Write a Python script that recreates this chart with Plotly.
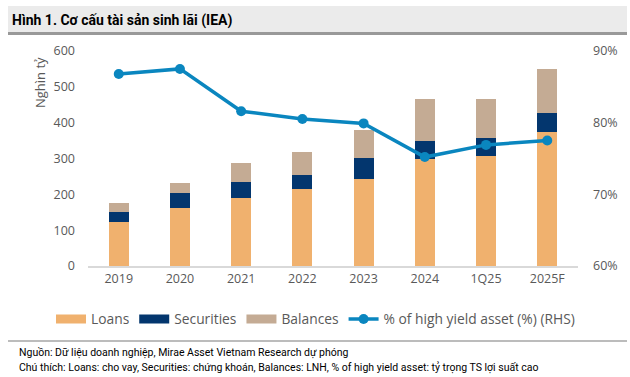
import plotly.graph_objects as go

categories = ["2019", "2020", "2021", "2022", "2023", "2024", "1Q25", "2025F"]
loans = [124, 163, 191, 214, 242, 300, 308, 374]
securities = [28, 40, 44, 40, 60, 50, 49, 52]
balances = [24, 30, 53, 64, 78, 115, 108, 124]
high_yield_pct = [86.8, 87.5, 81.6, 80.5, 79.9, 75.2, 76.9, 77.5]

C_LOANS = "#F0B16E"
C_SEC = "#03366E"
C_BAL = "#C4AB94"
C_LINE = "#0A86BF"
GREY = "#595959"

fig = go.Figure()
for name, vals, col in [("Loans", loans, C_LOANS), ("Securities", securities, C_SEC), ("Balances", balances, C_BAL)]:
    fig.add_trace(go.Bar(x=categories, y=vals, name=name, marker=dict(color=col, line=dict(width=0)),
                         showlegend=False, yaxis="y"))
# legend proxies (wide rectangular swatches)
for name, col in [("Loans", C_LOANS), ("Securities", C_SEC), ("Balances", C_BAL)]:
    fig.add_trace(go.Scatter(x=[None], y=[None], mode="lines", name=name,
                             line=dict(color=col, width=9), showlegend=True))

fig.add_trace(go.Scatter(x=categories, y=high_yield_pct, name="% of high yield asset (%) (RHS)",
                         mode="lines+markers", line=dict(color=C_LINE, width=3.5),
                         marker=dict(color=C_LINE, size=10), yaxis="y2"))

fig.update_layout(
    width=630, height=377,
    margin=dict(l=88, r=52, t=51, b=111, autoexpand=False),
    paper_bgcolor="white", plot_bgcolor="white",
    barmode="stack", bargap=0.67,
    font=dict(family="Open Sans", size=12.5, color=GREY),
    xaxis=dict(showline=True, linecolor="#D9D9D9", linewidth=1.5, ticks="", showgrid=False,
               tickfont=dict(size=12.5, color=GREY)),
    yaxis=dict(range=[0, 600], dtick=100, showgrid=False, zeroline=False, ticks="",
               tickfont=dict(size=12.5, color=GREY), ticklabelstandoff=12),
    yaxis2=dict(range=[60, 90], dtick=10, overlaying="y", side="right", showgrid=False,
                zeroline=False, ticksuffix="%", tickfont=dict(size=12.5, color=GREY),
                ticklabelstandoff=14),
    legend=dict(orientation="h", x=(51 - 88) / 490, xanchor="left",
                y=-(319 - 266) / 215, yanchor="middle",
                font=dict(size=13.8, color=GREY), itemwidth=30, traceorder="normal",
                bgcolor="rgba(0,0,0,0)"),
    shapes=[
        dict(type="rect", xref="paper", yref="paper", x0=-80/490, x1=539/490,
             y0=1 + (51 - 32) / 215, y1=1 + (51 - 6) / 215, fillcolor="#EBEBEB", line=dict(width=0), layer="below"),
        dict(type="line", xref="paper", yref="paper", x0=-80/490, x1=539/490,
             y0=1 + (51 - 33.5) / 215, y1=1 + (51 - 33.5) / 215, line=dict(color="#999999", width=3)),
        dict(type="line", xref="paper", yref="paper", x0=-80/490, x1=539/490,
             y0=-(341 - 266) / 215, y1=-(341 - 266) / 215, line=dict(color="#A6A6A6", width=1.5)),
    ],
    annotations=[
        dict(text="<b>Hình 1. Cơ cấu tài sản sinh lãi (IEA)</b>", xref="paper", yref="paper",
             x=-78/490, y=1 + (51 - 20) / 215, xanchor="left", yanchor="middle", showarrow=False,
             font=dict(family="Roboto", size=14, color="#000000")),
        dict(text="Nghìn tỷ", xref="paper", yref="paper", x=-48/490, y=1 - (83 - 51) / 215,
             xanchor="center", yanchor="middle", textangle=-90, showarrow=False,
             font=dict(size=13, color=GREY)),
        dict(text="Nguồn: Dữ liệu doanh nghiệp, Mirae Asset Vietnam Research dự phóng", xref="paper", yref="paper",
             x=-71/490, y=-(352 - 266) / 215, xanchor="left", yanchor="middle", showarrow=False,
             font=dict(family="Roboto", size=10.5, color="#000000")),
        dict(text="Chú thích: Loans: cho vay, Securities: chứng khoán, Balances: LNH, % of high yield asset: tỷ trọng TS lợi suất cao",
             xref="paper", yref="paper",
             x=-71/490, y=-(367 - 266) / 215, xanchor="left", yanchor="middle", showarrow=False,
             font=dict(family="Roboto", size=10.5, color="#000000")),
    ],
)

fig.write_html("out.html", config={"displayModeBar": False},
               post_script="document.body.style.margin='0';document.body.style.overflow='hidden';")
